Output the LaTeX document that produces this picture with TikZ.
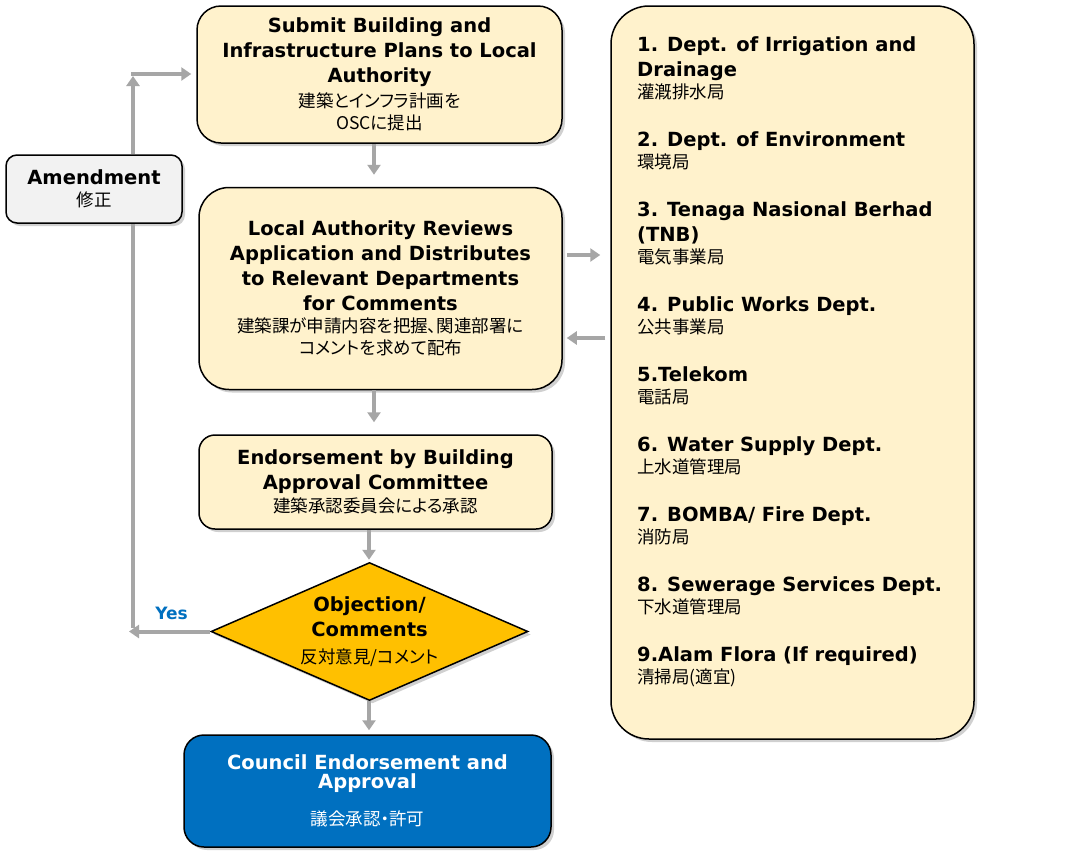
\documentclass[tikz,border=0pt]{standalone}
\usepackage{fontspec}
\setmainfont{DejaVu Sans}
\newfontfamily\jp[RawFeature={+palt}]{Noto Sans CJK JP}
\usetikzlibrary{positioning,shapes.geometric,shadows,arrows.meta}
\definecolor{boxyellow}{HTML}{FFF2CC}
\definecolor{boxgray}{HTML}{F2F2F2}
\definecolor{boxblue}{HTML}{0070C0}
\definecolor{boxgold}{HTML}{FFC000}
\definecolor{arrowgray}{HTML}{A6A6A6}
\newcommand{\jptext}[1]{{\jp\mdseries\fontsize{17.5}{22}\selectfont #1}}

\begin{document}
\begin{tikzpicture}[x=1pt, y=-1pt, font=\bfseries\fontsize{19.5}{25}\selectfont]
    \tikzstyle{flowbox} = [draw=black, line width=1.5pt, fill=boxyellow, align=center,
    inner sep=0pt, drop shadow={shadow xshift=3pt, shadow yshift=-3pt, opacity=0.3, fill=black!60}]
    \tikzstyle{decision} = [flowbox, diamond, fill=boxgold, aspect=2.28]
    \tikzstyle{flow} = [draw=arrowgray, line width=4pt, -{Triangle[length=10pt,width=13pt]}]
    \tikzstyle{loop line} = [draw=arrowgray, line width=4pt]

    \fill [white] (0,0) rectangle (1087,860);
    \useasboundingbox (0,0) rectangle (1087,860);

    \node [flowbox, rounded corners=24pt, minimum width=365pt, minimum height=137pt] (submit) at (379.5,74.5)
    {Submit Building and\\Infrastructure Plans to Local\\Authority\\[-0.5pt]\jptext{建築とインフラ計画を}\\[-3pt]\jptext{OSCに提出}};
    \node [flowbox, rounded corners=30pt, minimum width=363pt, minimum height=202pt, below=43pt of submit, xshift=1pt] (review)
    {Local Authority Reviews\\Application and Distributes\\to Relevant Departments\\for Comments\\[-2.5pt]\jptext{建築課が申請内容を把握、関連部署に}\\[-3pt]\jptext{コメントを求めて配布}};
    \node [flowbox, rounded corners=16pt, minimum width=353pt, minimum height=94pt, below=44pt of review, xshift=-5pt] (endorse)
    {Endorsement by Building\\Approval Committee\\[-2.5pt]\jptext{建築承認委員会による承認}};
    \node [decision, minimum width=317pt, minimum height=138pt, below=32pt of endorse, xshift=-6pt] (objection)
    {Objection/\\Comments\\[1.5pt]\jptext{反対意見/コメント}};
    \node [flowbox, rounded corners=20pt, fill=boxblue, text=white, minimum width=367pt, minimum height=112pt, below=33pt of objection, xshift=-2pt] (council)
    {Council Endorsement and\\[-6pt]Approval\\[11.5pt]\jptext{議会承認・許可}};
    \node [flowbox, rounded corners=11pt, fill=boxgray, minimum width=176pt, minimum height=68pt] (amend) at (94,189)
    {Amendment\\[-2.5pt]\jptext{修正}};

    % departments consulted
    \node [flowbox, rounded corners=38pt, minimum width=363pt, minimum height=733pt] (depts) at (792.5,372.5) {};
    \node [align=left, inner sep=0pt, anchor=north west] (deptlist) at (637,36)
    {1. Dept. of Irrigation and\\Drainage\\[-2.5pt]\jptext{灌漑排水局}\\[22.5pt]
     2. Dept. of Environment\\[-2.5pt]\jptext{環境局}\\[22.5pt]
     3. Tenaga Nasional Berhad\\(TNB)\\[-2.5pt]\jptext{電気事業局}\\[22.5pt]
     4. Public Works Dept.\\[-2.5pt]\jptext{公共事業局}\\[22.5pt]
     5.Telekom\\[-2.5pt]\jptext{電話局}\\[22.5pt]
     6. Water Supply Dept.\\[-2.5pt]\jptext{上水道管理局}\\[22.5pt]
     7. BOMBA/ Fire Dept.\\[-2.5pt]\jptext{消防局}\\[22.5pt]
     8. Sewerage Services Dept.\\[-2.5pt]\jptext{下水道管理局}\\[22.5pt]
     9.Alam Flora (If required)\\[-2.5pt]\jptext{清掃局(適宜)}};

    \draw [flow, shorten >=12pt] ([xshift=-5.5pt]submit.south) -- ([xshift=-6.5pt]review.north);
    \draw [flow, shorten >=12pt] ([xshift=-6.5pt]review.south) -- ([xshift=-1.5pt]endorse.north);
    \draw [flow, shorten >=2pt] ([xshift=-6.5pt]endorse.south) -- ([xshift=-0.5pt]objection.north);
    \draw [flow, shorten >=4pt] ([xshift=-0.5pt]objection.south) -- ([xshift=1.5pt]council.north);
    \draw [flow, shorten <=4pt, shorten >=10pt] ([yshift=33.5pt]review.east) -- ([yshift=117.5pt]depts.west);
    \draw [flow, shorten <=5pt, shorten >=4pt] ([yshift=34.5pt]depts.west) -- ([yshift=-49.5pt]review.east);

    % amendment loop
    \coordinate (loop top) at (133,74);
    \coordinate (loop bottom) at (objection.west -| loop top);
    \draw [flow, shorten >=-4pt] (objection.west) -- node [above=10pt, inner sep=0pt, text=boxblue,
    font=\bfseries\fontsize{17}{20}\selectfont] (yes) {Yes} (loop bottom);
    \draw [loop line] ([yshift=4pt]loop bottom) -- (loop bottom |- amend.south);
    \draw [flow, shorten >=2pt] (loop top |- amend.north) -- (loop top);
    \draw [flow, shorten <=-2pt, shorten >=5pt] (loop top) -- (loop top -| submit.west);
\end{tikzpicture}
\end{document}
